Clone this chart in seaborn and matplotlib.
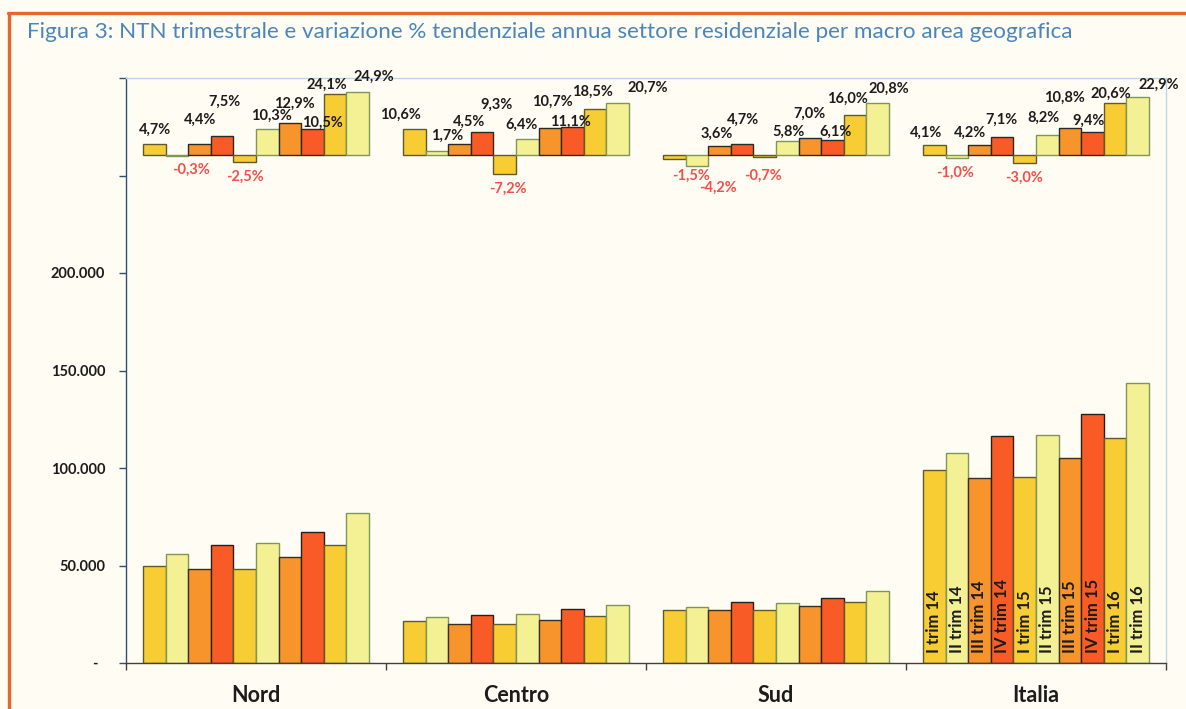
import matplotlib
matplotlib.use("Agg")
import matplotlib.pyplot as plt
from matplotlib.lines import Line2D
import seaborn as sns
import pandas as pd

# ---------------- data ----------------
areas = ["Nord", "Centro", "Sud", "Italia"]
quarters = ["I trim 14", "II trim 14", "III trim 14", "IV trim 14",
            "I trim 15", "II trim 15", "III trim 15", "IV trim 15",
            "I trim 16", "II trim 16"]

ntn_nord = [49500, 56000, 48100, 60600, 48300, 61700, 54300, 67000, 60300, 76900]
ntn_centro = [21700, 23500, 20000, 24700, 20200, 24900, 22200, 27500, 23900, 30000]
ntn_sud = [27200, 28900, 27200, 31500, 27000, 30600, 29000, 33500, 31300, 36800]
ntn_italia = [98800, 107800, 95100, 116500, 95600, 116700, 105300, 127600, 115300, 143400]

pct_nord = [4.7, -0.3, 4.4, 7.5, -2.5, 10.3, 12.9, 10.5, 24.1, 24.9]
pct_centro = [10.6, 1.7, 4.5, 9.3, -7.2, 6.4, 10.7, 11.1, 18.5, 20.7]
pct_sud = [-1.5, -4.2, 3.6, 4.7, -0.7, 5.8, 7.0, 6.1, 16.0, 20.8]
pct_italia = [4.1, -1.0, 4.2, 7.1, -3.0, 8.2, 10.8, 9.4, 20.6, 22.9]

ytick_values = [0, 50000, 100000, 150000, 200000, 250000, 300000]
ytick_labels = ["-  ", "50.000", "100.000", "150.000", "200.000", "", ""]

title = ("Figura 3: NTN trimestrale e variazione % tendenziale annua settore "
         "residenziale per macro area geografica")

# label placement (pixel offset of the label centre from the bar centre / bar end)
label_offsets_px = [
    [(1, 14), (14, 14), (1, 24), (2, 35), (0, 15), (4, 14), (4, 19), (10, 6), (-8, 10), (16, 16)],
    [(-14, 14), (10, 15), (10, 22), (14, 27), (3, 15), (-6, 14), (2, 27), (-2, 6), (-3, 17), (30, 15)],
    [(17, 17), (21, 22), (-3, 13), (1, 24), (-2, 19), (1, 9), (0, 24), (3, 8), (-8, 16), (11, 14)],
    [(-8, 12), (-2, 15), (-9, 12), (-1, 18), (-1, 15), (-4, 17), (-5, 30), (-4, 11), (-4, 10), (21, 13)],
]

# ---------------- table ----------------
ntn_all = [ntn_nord, ntn_centro, ntn_sud, ntn_italia]
pct_all = [pct_nord, pct_centro, pct_sud, pct_italia]
rows = []
for a, nv, pv in zip(areas, ntn_all, pct_all):
    for q, n, p in zip(quarters, nv, pv):
        rows.append({"area": a, "quarter": q, "ntn": n, "pct": p})
df = pd.DataFrame(rows)

# ---------------- style ----------------
bg = "#FFFDF3"
c_I, c_II, c_III, c_IV = "#F8CC33", "#F4F195", "#F8942C", "#F95B26"
palette = [c_I, c_II, c_III, c_IV, c_I, c_II, c_III, c_IV, c_I, c_II]
edge_by_color = {c_I: "#5e5a2c", c_II: "#7f9658", c_III: "#3a2e20", c_IV: "#2a1e18"}
txt = "#1c1c1c"
neg_col = "#F0504A"

sns.set_theme(style="white")
plt.rcParams["font.family"] = ["Lato", "DejaVu Sans"]

W, H = 1186, 709
fig = plt.figure(figsize=(W / 100, H / 100), dpi=100, facecolor=bg)
ax = fig.add_axes([126 / W, 46 / H, 1040 / W, 585 / H])
ax.set_facecolor(bg)

bw = 10 / 11.5
sns.barplot(data=df, x="area", y="ntn", hue="quarter", hue_order=quarters,
            order=areas, palette=palette, saturation=1, width=bw, gap=0,
            edgecolor="#3a3a2c", linewidth=1.0, legend=False, ax=ax)
ax.set_xlim(-0.5, 3.5)
ax.set_ylim(0, 300000)
ax.set_xlabel("")
ax.set_ylabel("")
for col, cont in zip(palette, ax.containers):
    for p in cont.patches:
        p.set_edgecolor(edge_by_color[col])

# y axis
ax.set_yticks(ytick_values)
ax.set_yticklabels(ytick_labels, fontweight="bold", fontsize=10.5, color=txt)
ax.tick_params(axis="y", direction="out", length=5, width=1, color="#2f4f6f",
               pad=10, left=True)

# x axis: labels at centres, tick marks at group boundaries
ax.set_xticks(range(len(areas)))
ax.set_xticklabels(areas, fontweight="bold", fontsize=15.5, color=txt)
ax.tick_params(axis="x", which="major", length=0, pad=16)
ax.set_xticks([i - 0.5 for i in range(len(areas) + 1)], minor=True)
ax.tick_params(axis="x", which="minor", direction="out", length=5, width=1,
               color="#404040", bottom=True)

for side, col in [("left", "#2f4f6f"), ("bottom", "#404040"),
                  ("top", "#bcd5e8"), ("right", "#bcd5e8")]:
    ax.spines[side].set_visible(True)
    ax.spines[side].set_color(col)
    ax.spines[side].set_linewidth(1)

# quarter names inside the Italia bars
for q, cont in zip(quarters, ax.containers):
    p = cont.patches[areas.index("Italia")]
    ax.annotate(q, (p.get_x() + p.get_width() / 2, 0), xytext=(0, 7),
                textcoords="offset points", rotation=90, ha="center",
                va="bottom", fontsize=12, fontweight="bold", color=txt)

# ---------------- percentage inset ----------------
ax2 = ax.twinx()
sns.barplot(data=df, x="area", y="pct", hue="quarter", hue_order=quarters,
            order=areas, palette=palette, saturation=1, width=bw, gap=0,
            edgecolor="#2a2a22", linewidth=1.0, legend=False, ax=ax2)
ax2.set_xlim(-0.5, 3.5)
ax2.set_ylim(-200.6, 30.6)
ax2.set_xlabel("")
ax2.set_ylabel("")
ax2.set_yticks([])
for s in ax2.spines.values():
    s.set_visible(False)
ax2.tick_params(axis="both", which="both", length=0)
for col, cont in zip(palette, ax2.containers):
    for p in cont.patches:
        p.set_edgecolor("#2a2a22" if col in (c_III, c_IV) else edge_by_color[col])

px2pt = 0.72
for qi, cont in enumerate(ax2.containers):
    for ai, p in enumerate(cont.patches):
        v = pct_all[ai][qi]
        dx, dy = label_offsets_px[ai][qi]
        xc = p.get_x() + p.get_width() / 2
        lab = f"{v:.1f}%".replace(".", ",")
        sign = 1 if v >= 0 else -1
        ax2.annotate(lab, (xc, v), xytext=(dx * px2pt, sign * dy * px2pt),
                     textcoords="offset points", ha="center", va="center",
                     fontsize=10.5, fontweight="bold",
                     color=txt if v >= 0 else neg_col)

# ---------------- title & frame ----------------
fig.text(27 / W, 1 - 32 / H, title, ha="left", va="center", fontsize=16.2,
         color="#4a86bb")
fig.add_artist(Line2D([8 / W, 1], [1 - 13 / H, 1 - 13 / H], color="#E8652C",
                      lw=2.4, transform=fig.transFigure))
fig.add_artist(Line2D([9 / W, 9 / W], [0, 1 - 13 / H], color="#E8652C",
                      lw=2.4, transform=fig.transFigure))

fig.savefig("out.png", dpi=100, facecolor=bg)
